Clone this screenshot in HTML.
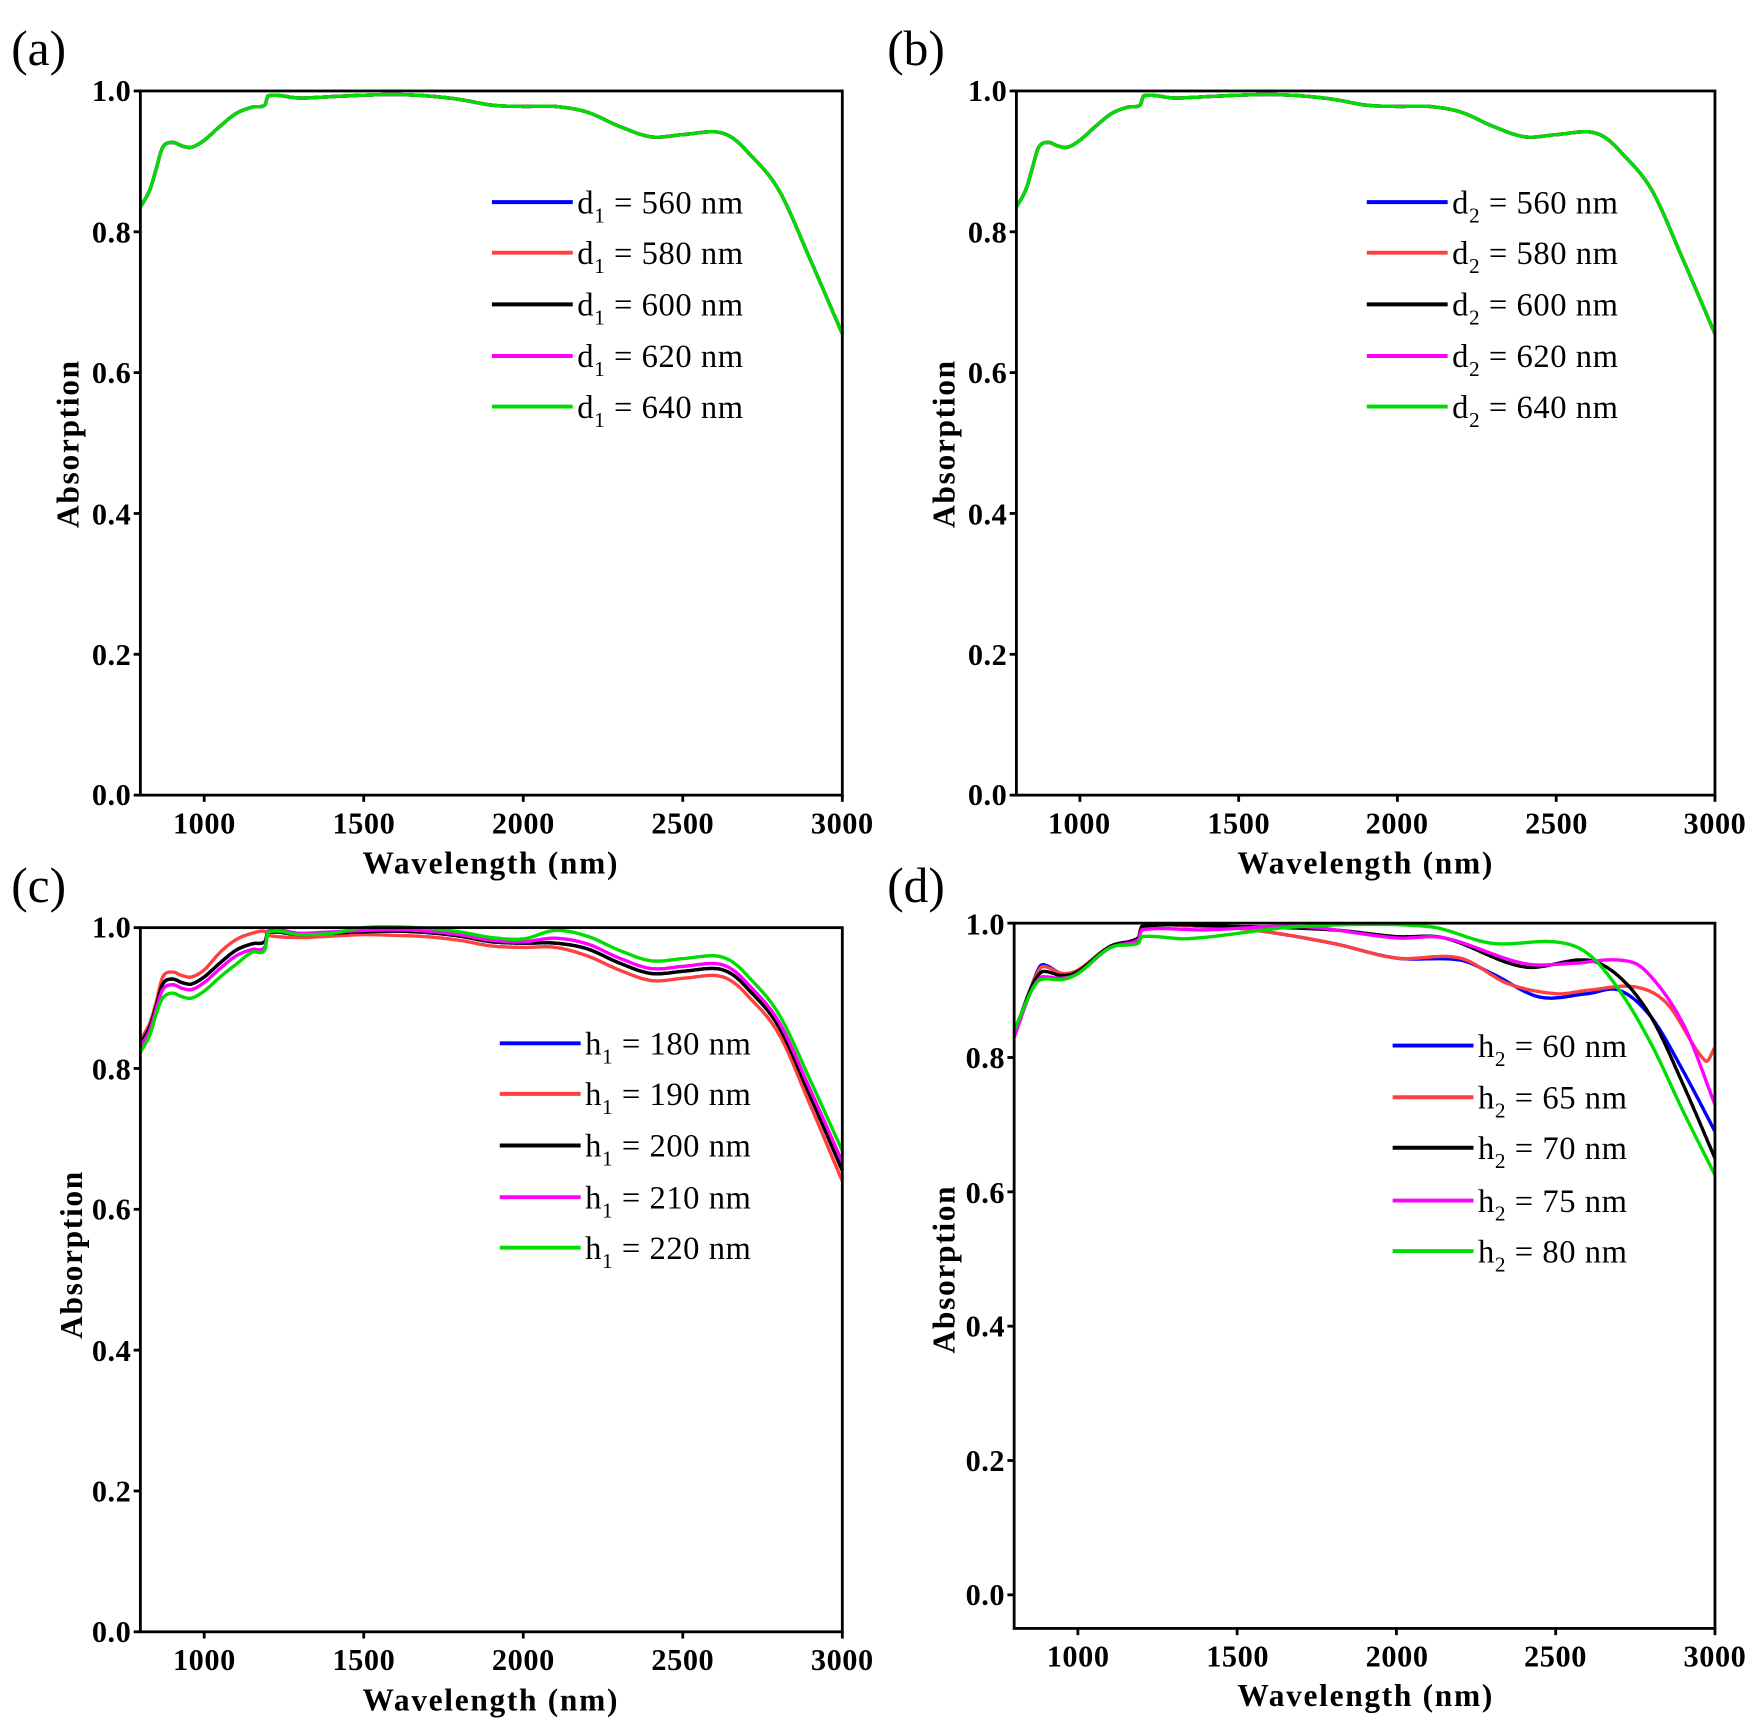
<!DOCTYPE html>
<html><head><meta charset="utf-8"><style>
html,body{margin:0;padding:0;background:#fff;}
svg{display:block;}
text{font-family:"Liberation Serif",serif;fill:#000;}
.tk{font-size:27px;font-weight:bold;letter-spacing:0.5px;}
.ax{font-size:28px;font-weight:bold;letter-spacing:1.5px;}
.pl{font-size:44px;}
.lg{font-size:29px;letter-spacing:0.5px;}
.sb{font-size:19px;}
</style></head><body>
<svg id="s" width="1761" height="1734" viewBox="0 0 1568 1544" preserveAspectRatio="none" xmlns="http://www.w3.org/2000/svg">
<g id="curves"></g>
<g id="frames" fill="none" stroke="#000" stroke-width="2.5">
<rect x="125" y="81" width="625" height="627"/>
<rect x="905" y="81" width="622" height="627"/>
<rect x="125" y="826" width="625" height="627"/>
<rect x="903" y="822" width="624" height="628"/>
</g>
<g id="ticks" stroke="#000" stroke-width="2.5"></g>
<text class="pl" x="10" y="58">(a)</text>
<text class="pl" x="790" y="58">(b)</text>
<text class="pl" x="10" y="803">(c)</text>
<text class="pl" x="790" y="803">(d)</text>
<g class="tk" text-anchor="end">
<text x="117" y="90">1.0</text><text x="117" y="216">0.8</text><text x="117" y="341">0.6</text><text x="117" y="467">0.4</text><text x="117" y="592">0.2</text><text x="117" y="717">0.0</text>
<text x="897" y="90">1.0</text><text x="897" y="216">0.8</text><text x="897" y="341">0.6</text><text x="897" y="467">0.4</text><text x="897" y="592">0.2</text><text x="897" y="717">0.0</text>
<text x="117" y="835">1.0</text><text x="117" y="961">0.8</text><text x="117" y="1086">0.6</text><text x="117" y="1212">0.4</text><text x="117" y="1337">0.2</text><text x="117" y="1462">0.0</text>
<text x="895" y="832">1.0</text><text x="895" y="951">0.8</text><text x="895" y="1071">0.6</text><text x="895" y="1190">0.4</text><text x="895" y="1310">0.2</text><text x="895" y="1429">0.0</text>
</g>
<g class="tk" text-anchor="middle">
<text x="182" y="742">1000</text><text x="324" y="742">1500</text><text x="466" y="742">2000</text><text x="608" y="742">2500</text><text x="750" y="742">3000</text>
<text x="961" y="742">1000</text><text x="1103" y="742">1500</text><text x="1244" y="742">2000</text><text x="1386" y="742">2500</text><text x="1527" y="742">3000</text>
<text x="182" y="1487">1000</text><text x="324" y="1487">1500</text><text x="466" y="1487">2000</text><text x="608" y="1487">2500</text><text x="750" y="1487">3000</text>
<text x="960" y="1484">1000</text><text x="1102" y="1484">1500</text><text x="1244" y="1484">2000</text><text x="1385" y="1484">2500</text><text x="1527" y="1484">3000</text>
</g>
<g class="ax" text-anchor="middle">
<text x="437" y="778">Wavelength (nm)</text>
<text x="1216" y="778">Wavelength (nm)</text>
<text x="437" y="1523">Wavelength (nm)</text>
<text x="1216" y="1519">Wavelength (nm)</text>
<text transform="translate(70,395) rotate(-90)">Absorption</text>
<text transform="translate(850,395) rotate(-90)">Absorption</text>
<text transform="translate(73,1117) rotate(-90)">Absorption</text>
<text transform="translate(850,1130) rotate(-90)">Absorption</text>
</g>
<g id="legends"></g>
</svg>
<script>
const NS="http://www.w3.org/2000/svg";
const cols=["#0000ff","#ff4040","#000000","#ff00ff","#00dd00"];
function el(p,t,a){const e=document.createElementNS(NS,t);for(const k in a)e.setAttribute(k,a[k]);p.appendChild(e);return e;}
const C=document.getElementById('curves'),T=document.getElementById('ticks'),L=document.getElementById('legends');
function mk(L,R,Tp,B,ymin,ymax){return {X:w=>L+(w-800)/2200*(R-L),Y:a=>B-(a-ymin)/(ymax-ymin)*(B-Tp),L,R,Tp,B,ymin,ymax};}
const P=[mk(125,750,81,708,0,1),mk(905,1527,81,708,0,1),mk(125,750,826,1453,0,1),mk(903,1527,822,1450,-0.05,1)];
function interp(pts,w){const n=pts.length;for(let i=0;i<n-1;i++){if(w>=pts[i][0]&&w<=pts[i+1][0]){
 const p0=pts[Math.max(0,i-1)],p1=pts[i],p2=pts[i+1],p3=pts[Math.min(n-1,i+2)];
 const h=p2[0]-p1[0],t=(w-p1[0])/h;
 let m1=(p2[1]-p0[1])/(p2[0]-p0[0])*h, m2=(p3[1]-p1[1])/(p3[0]-p1[0])*h;
 if(h<20){m1=0;m2=0;}
 const t2=t*t,t3=t2*t;
 return (2*t3-3*t2+1)*p1[1]+(t3-2*t2+t)*m1+(-2*t3+3*t2)*p2[1]+(t3-t2)*m2;}}return pts[n-1][1];}
function draw(p,pts,col,w){let d="";for(let x=800;x<=3000;x+=4){d+=(x==800?"M":"L")+p.X(x).toFixed(1)+","+p.Y(interp(pts,x)).toFixed(1);}el(C,"path",{d,fill:"none",stroke:col,"stroke-width":w||3,"stroke-linejoin":"round"});}
const base=[[800,0.835],[830,0.86],[850,0.89],[870,0.92],[900,0.927],[930,0.922],[960,0.92],[1000,0.93],[1050,0.95],[1100,0.968],[1150,0.977],[1190,0.98],[1200,0.993],[1300,0.99],[1400,0.992],[1500,0.994],[1600,0.995],[1700,0.993],[1800,0.988],[1900,0.98],[2000,0.978],[2100,0.978],[2200,0.97],[2300,0.95],[2400,0.935],[2500,0.938],[2600,0.942],[2650,0.935],[2700,0.915],[2800,0.86],[2900,0.76],[3000,0.655]];
for(const i of [0,1])for(let k=0;k<5;k++)draw(P[i],base,cols[k]);
function shift(b,f){return b.map(([w,a])=>[w,f(w,a)]);}
const cRed=shift(base,(w,a)=>w<1200?a+(w>850?0.01:0.005)+(w>1000&&w<1200?0.005:0):w<2200?a-0.004-(w>1500?0.002:0):w<2800?a-0.01:a-0.01-(w-2800)/200*0.005);
const cMag=shift(base,(w,a)=>w<1200?a-(w>850?0.008:0.005):w<2100?a+0.002:w<2800?a+0.007:a+0.007+(w-2800)/200*0.005);
const cGrn=shift(base,(w,a)=>w<1200?a-(w>850?0.02:0.012)+(w>1100?0.008:0):w<1500?a:w<2100?a+0.006:w<2800?a+0.018:a+0.018+(w-2800)/200*0.01);
draw(P[2],base,cols[0]);draw(P[2],cRed,cols[1]);draw(P[2],base,cols[2]);draw(P[2],cMag,cols[3]);draw(P[2],cGrn,cols[4]);
const d60=[[800,0.835],[850,0.9],[880,0.935],[900,0.937],[950,0.925],[1000,0.93],[1100,0.965],[1190,0.978],[1200,0.995],[1400,0.995],[1550,0.99],[1800,0.97],[2000,0.948],[2200,0.945],[2300,0.925],[2450,0.89],[2600,0.895],[2700,0.9],[2800,0.86],[2900,0.78],[3000,0.69]];
const d65=[[800,0.835],[850,0.9],[880,0.932],[900,0.935],[950,0.925],[1000,0.93],[1100,0.965],[1190,0.978],[1200,0.995],[1400,0.995],[1550,0.99],[1800,0.97],[2000,0.948],[2200,0.948],[2350,0.91],[2500,0.895],[2600,0.9],[2750,0.905],[2850,0.88],[2970,0.795],[3000,0.815]];
const d70=[[800,0.835],[850,0.9],[880,0.925],[900,0.928],[950,0.922],[1000,0.928],[1100,0.965],[1190,0.978],[1200,0.995],[1500,0.995],[1800,0.99],[2000,0.98],[2150,0.978],[2400,0.935],[2600,0.945],[2700,0.92],[2800,0.86],[2900,0.76],[3000,0.65]];
const d75=[[800,0.83],[850,0.895],[880,0.918],[900,0.92],[950,0.918],[1000,0.925],[1100,0.963],[1190,0.975],[1200,0.99],[1400,0.99],[1700,0.995],[2000,0.978],[2150,0.978],[2400,0.94],[2550,0.94],[2700,0.945],[2780,0.93],[2900,0.85],[3000,0.73]];
const d80=[[800,0.84],[850,0.895],[880,0.915],[950,0.916],[1000,0.925],[1100,0.963],[1190,0.97],[1200,0.98],[1350,0.977],[1700,0.995],[2100,0.995],[2300,0.97],[2500,0.972],[2600,0.955],[2700,0.9],[2800,0.82],[2900,0.72],[3000,0.625]];
[d60,d65,d70,d75,d80].forEach((d,k)=>draw(P[3],d,cols[k]));
P.forEach((p,i)=>{for(let w=1000;w<=3000;w+=500){const x=p.X(w);el(T,"line",{x1:x,x2:x,y1:p.B,y2:p.B+6});}
 for(let v=0;v<=1.001;v+=0.2){const y=p.Y(v);el(T,"line",{x1:p.L,x2:p.L-6,y1:y,y2:y});}});
const LG=[{x:438,ys:[180,225,271,317,362],l:"d",s:"1",v:["560","580","600","620","640"]},
{x:1217,ys:[180,225,271,317,362],l:"d",s:"2",v:["560","580","600","620","640"]},
{x:445,ys:[929,974,1020,1066,1111],l:"h",s:"1",v:["180","190","200","210","220"]},
{x:1240,ys:[931,977,1022,1069,1114],l:"h",s:"2",v:["60","65","70","75","80"]}];
LG.forEach(g=>g.ys.forEach((y,k)=>{el(L,"line",{x1:g.x,x2:g.x+72,y1:y,y2:y,stroke:cols[k],"stroke-width":3.5});
 const t=el(L,"text",{x:g.x+76,y:y+10,class:"lg"});t.textContent=g.l;
 const s=el(t,"tspan",{class:"sb",dy:8});s.textContent=g.s;
 const r=el(t,"tspan",{dy:-8});r.textContent=" = "+g.v[k]+" nm";}));
</script>
</body></html>
